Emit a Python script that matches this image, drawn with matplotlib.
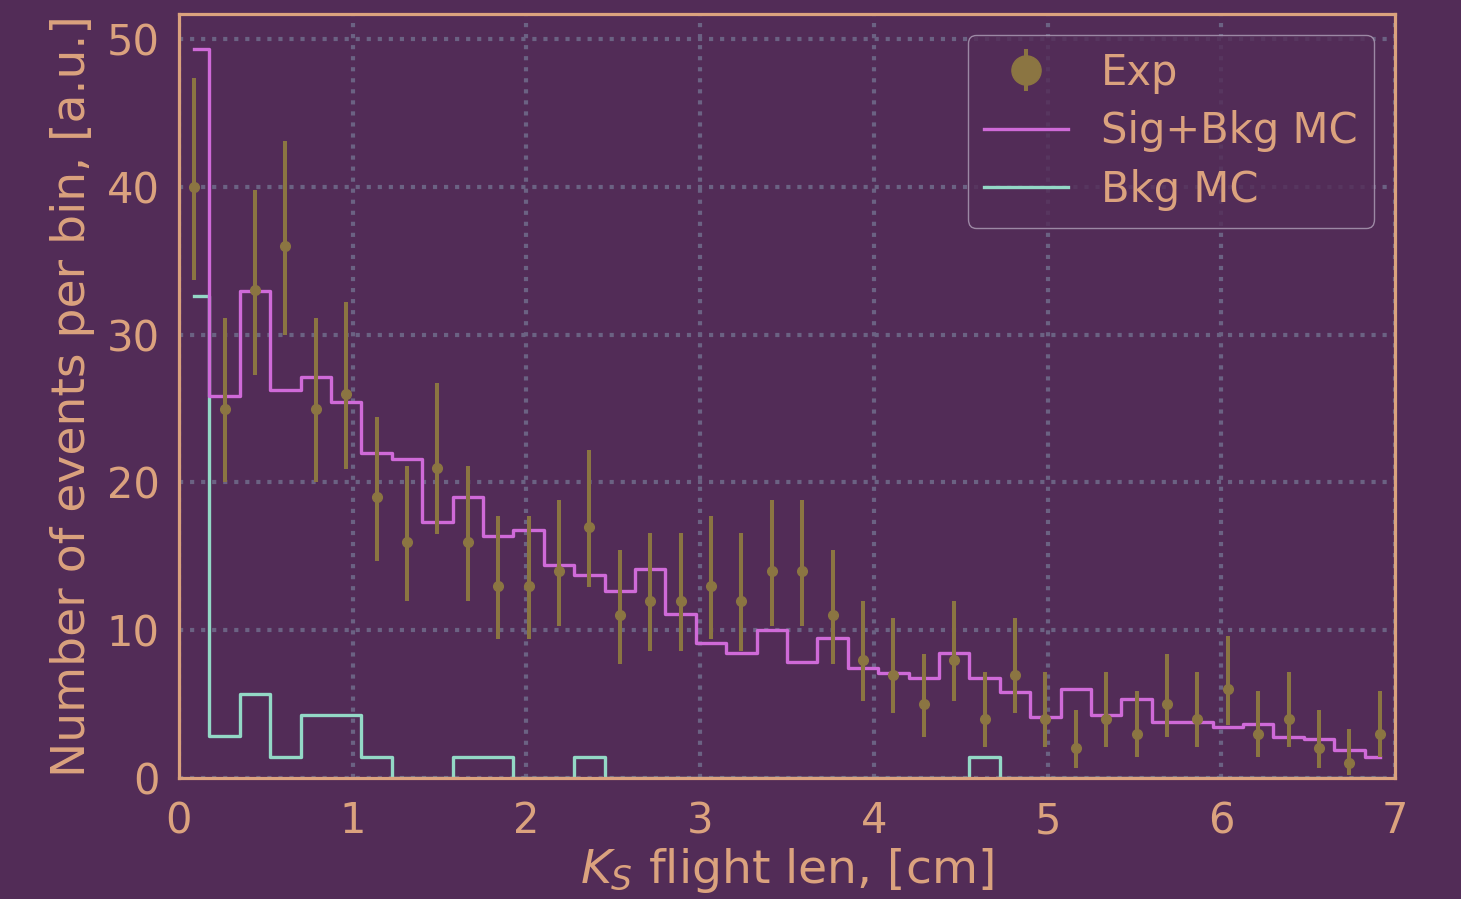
import matplotlib
matplotlib.use("Agg")
import matplotlib.pyplot as plt
import numpy as np

# binning: 40 bins over the flight length range
bin_edges = np.linspace(0, 7, 41)
bin_centers = 0.5 * (bin_edges[:-1] + bin_edges[1:])

exp_counts = [40, 25, 33, 36, 25, 26, 19, 16, 21, 16,
              13, 13, 14, 17, 11, 12, 12, 13, 12, 14,
              14, 11, 8, 7, 5, 8, 4, 7, 4, 2,
              4, 3, 5, 4, 6, 3, 4, 2, 1, 3]
exp_low = [33.7, 20.0, 27.3, 30.0, 20.0, 20.9, 14.7, 12.0, 16.5, 12.0,
           9.4, 9.4, 10.3, 12.9, 7.7, 8.6, 8.6, 9.4, 8.6, 10.3,
           10.3, 7.7, 5.2, 4.4, 2.8, 5.2, 2.1, 4.4, 2.1, 0.7,
           2.1, 1.4, 2.8, 2.1, 3.6, 1.4, 2.1, 0.7, 0.2, 1.4]
exp_high = [47.4, 31.1, 39.8, 43.1, 31.1, 32.2, 24.4, 21.1, 26.7, 21.1,
            17.7, 17.7, 18.8, 22.2, 15.4, 16.6, 16.6, 17.7, 16.6, 18.8,
            18.8, 15.4, 12.0, 10.8, 8.4, 12.0, 7.2, 10.8, 7.2, 4.6,
            7.2, 5.9, 8.4, 7.2, 9.6, 5.9, 7.2, 4.6, 3.3, 5.9]

sig_bkg_mc = [49.3, 25.85, 32.95, 26.25, 27.15, 25.46, 22.0, 21.58, 17.34, 19.03,
              16.4, 16.76, 14.41, 13.71, 12.63, 14.16, 11.07, 9.16, 8.48, 10.01,
              7.83, 9.49, 7.46, 7.12, 6.79, 8.48, 6.77, 5.80, 4.15, 6.02,
              4.24, 5.35, 3.77, 3.77, 3.45, 3.67, 2.75, 2.66, 1.87, 1.44]
bkg_mc = [32.6, 2.84, 5.68, 1.42, 4.26, 4.26, 1.42, 0, 0, 1.42,
          1.42, 0, 0, 1.42, 0, 0, 0, 0, 0, 0,
          0, 0, 0, 0, 0, 0, 1.42, 0, 0, 0,
          0, 0, 0, 0, 0, 0, 0, 0, 0, 0]

bg = "#522c57"
fg = "#dba27e"
c_exp = "#8b7542"
c_sig = "#cf6ad8"
c_bkg = "#93d8c6"

plt.rcParams["font.size"] = 30
plt.rcParams["text.color"] = fg
plt.rcParams["axes.labelcolor"] = fg
plt.rcParams["xtick.color"] = fg
plt.rcParams["ytick.color"] = fg

fig, ax = plt.subplots(figsize=(14.61, 8.99), dpi=100)
fig.patch.set_facecolor(bg)
ax.set_facecolor(bg)
fig.subplots_adjust(left=0.1225, right=0.9548, top=0.9844, bottom=0.1346)

counts = np.array(exp_counts, dtype=float)
yerr = [counts - np.array(exp_low), np.array(exp_high) - counts]

ax.step(bin_centers, bkg_mc, where="mid", color=c_bkg, lw=2.4, label="Bkg MC", zorder=2)
ax.step(bin_centers, sig_bkg_mc, where="mid", color=c_sig, lw=2.4, label="Sig+Bkg MC", zorder=3)
ax.errorbar(bin_centers, counts, yerr=yerr, fmt="o", color=c_exp, ms=7,
            elinewidth=2.9, capsize=0, label="Exp", zorder=4)

ax.set_xlim(0, 7)
ax.set_ylim(0, 51.7)
ax.set_xticks(range(0, 8))
ax.set_yticks(range(0, 51, 10))
ax.tick_params(axis="x", length=0, pad=16)
ax.tick_params(axis="y", length=0, pad=14)
ax.grid(True, linestyle=":", color="#6b6283", lw=3)

for s in ax.spines.values():
    s.set_color(fg)
    s.set_linewidth(2.3)
    s.set_zorder(5)

ax.set_xlabel("$K_S$ flight len, [cm]", fontsize=34, labelpad=3)
ax.set_ylabel("Number of events per bin, [a.u.]", fontsize=34, labelpad=8)

handles, labels = ax.get_legend_handles_labels()
order = [2, 1, 0]
leg = ax.legend([handles[i] for i in order], [labels[i] for i in order],
                loc="upper right", markerscale=3, facecolor=bg,
                edgecolor="#b0a0b8", framealpha=0.8, borderaxespad=0.5,
                labelspacing=0.4)
leg.get_frame().set_linewidth(1.0)

fig.savefig("out.png", dpi=100, facecolor=bg)
